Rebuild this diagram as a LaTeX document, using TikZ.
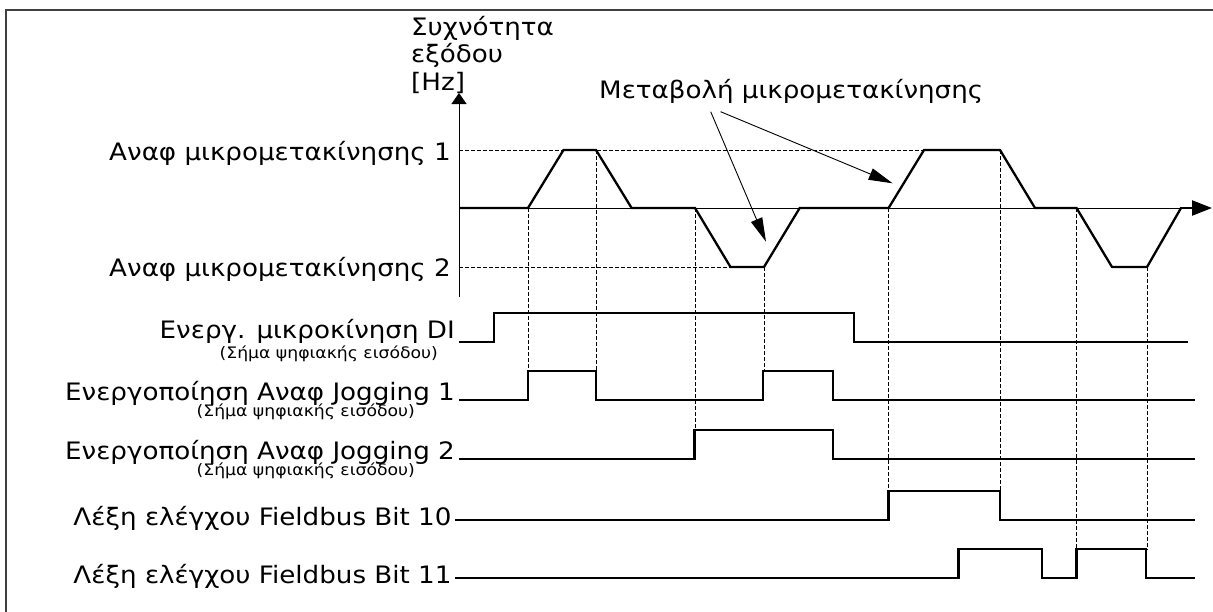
\documentclass[tikz,border=0pt]{standalone}
\usepackage{fontspec}
\setmainfont{DejaVu Sans}[FakeStretch=1.09]
\usetikzlibrary{arrows.meta}
\newcommand\lblfont{\fontsize{24}{27}\selectfont}
\newcommand\subfont{\fontsize{15.8}{17}\selectfont}
\begin{document}
\begin{tikzpicture}[x=1pt,y=-1pt,
  trace/.style={line width=2.3pt, line join=miter},
  thinline/.style={line width=0.9pt},
  guide/.style={line width=0.8pt, dash pattern=on 3.5pt off 2.5pt},
  lbl/.style={font=\lblfont, inner sep=0pt},
  sublbl/.style={font=\subfont, inner sep=0pt},
  frame/.style={line width=1.5pt, draw=black!75}
]
\useasboundingbox (0,0) rectangle (1213,611);
% frame
\draw[frame] (6,615) -- (6,10) -- (1217,10);

% axis title
\node[lbl, anchor=base west] (ax1) at (411,35) {Συχνότητα};
\node[lbl, anchor=base west] (ax2) at (411,62.5) {εξόδου};
\node[lbl, anchor=base west] (ax3) at (411,90) {[Hz]};

% level labels
\node[lbl, anchor=base east] (ref1) at (451,160) {Αναφ μικρομετακίνησης 1};
\node[lbl, anchor=base east] (ref2) at (451,276) {Αναφ μικρομετακίνησης 2};

% signal labels
\node[lbl, anchor=base east] (di) at (455,338.5) {Ενεργ. μικροκίνηση DI};
\node[sublbl, anchor=base east] (disub) at (438,358.3) {(Σήμα ψηφιακής εισόδου)};
\node[lbl, anchor=base east] (j1) at (455,400) {Ενεργοποίηση Αναφ Jogging 1};
\node[sublbl, anchor=base east] (j1sub) at (415,416.7) {(Σήμα ψηφιακής εισόδου)};
\node[lbl, anchor=base east] (j2) at (455,459.5) {Ενεργοποίηση Αναφ Jogging 2};
\node[sublbl, anchor=base east] (j2sub) at (415,475) {(Σήμα ψηφιακής εισόδου)};
\node[lbl, anchor=base east] (b10) at (451.6,525) {Λέξη ελέγχου Fieldbus Bit 10};
\node[lbl, anchor=base east] (b11) at (451.6,583) {Λέξη ελέγχου Fieldbus Bit 11};

% ramp label
\node[lbl, anchor=base west] (mk) at (599,98) {Μεταβολή μικρομετακίνησης};
\coordinate (s1) at (710.7,111.7);
\coordinate (s2) at (720.6,111.7);
\coordinate (t1) at (766,241.7);
\coordinate (t2) at (892.6,183.3);

% reference dashed levels
\draw[guide] (459,150) -- (924,150);
\draw[guide] (459,267) -- (730.5,267);

% vertical guides
\draw[guide] (528,208) -- (528,371);
\draw[guide] (596,150) -- (596,371);
\draw[guide] (695,208) -- (695,430);
\draw[guide] (764,267) -- (764,371);
\draw[guide] (888.6,208) -- (888.6,490.7);
\draw[guide] (1000,150) -- (1000,490.7);
\draw[guide] (1076.5,208) -- (1076.5,549.3);
\draw[guide] (1147,267) -- (1147,549.3);

% axes
\draw[thinline] (459,208) -- (1190,208);
\draw[thinline, -{Triangle[length=11pt,width=15pt]}] (459,297) -- (459,93);

% frequency trace
\draw[trace] (459,208) -- (528,208) -- (563.5,150) -- (596,150) -- (631.6,208)
  -- (695,208) -- (730.5,267) -- (764,267) -- (799.7,208) -- (888.6,208)
  -- (924,150) -- (1000,150) -- (1035,208) -- (1076.5,208) -- (1112,267)
  -- (1147,267) -- (1181,208);
\draw[trace, -{Triangle[length=20pt,width=15pt]}] (1180,208) -- (1212,208);

% annotation arrows
\draw[thinline, -{Triangle[length=24pt,width=12pt]}] (s1) -- (t1);
\draw[thinline, -{Triangle[length=24pt,width=12pt]}] (s2) -- (t2);

% digital signals
\draw[trace] (459,341.7) -- (494.3,341.7) -- (494.3,312.7) -- (854,312.7)
  -- (854,341.7) -- (1188,341.7);
\draw[trace] (459,400) -- (528,400) -- (528,371) -- (596,371) -- (596,400)
  -- (763.3,400) -- (763.3,371) -- (833.3,371) -- (833.3,400) -- (1195,400);
\draw[trace] (459,459.3) -- (694.5,459.3) -- (694.5,430) -- (833.3,430)
  -- (833.3,459.3) -- (1195,459.3);
\draw[trace] (455,520) -- (888.6,520) -- (888.6,490.7) -- (1000,490.7)
  -- (1000,520) -- (1195,520);
\draw[trace] (455,578.3) -- (958.6,578.3) -- (958.6,549.3) -- (1041.7,549.3)
  -- (1041.7,578.3) -- (1076.5,578.3) -- (1076.5,549.3) -- (1146,549.3)
  -- (1146,578.3) -- (1195,578.3);
\end{tikzpicture}
\end{document}
